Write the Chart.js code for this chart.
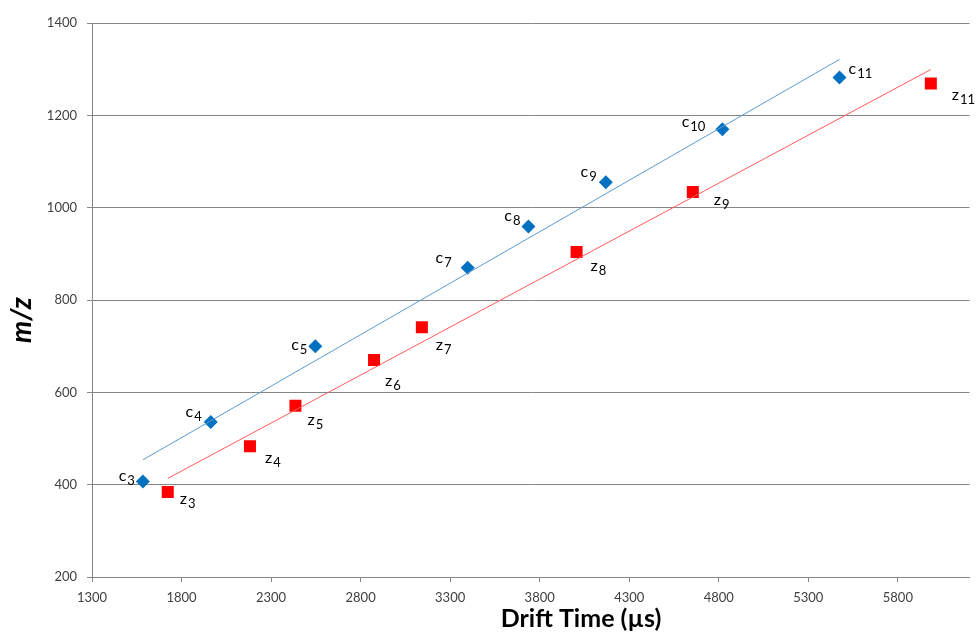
<!DOCTYPE html>
<html>
<head>
<meta charset="utf-8">
<script src="https://cdn.jsdelivr.net/npm/chart.js@4.4.1/dist/chart.umd.min.js"></script>
<style>
  html, body { margin: 0; padding: 0; background: #fff; }
</style>
</head>
<body>
<canvas id="chart" width="978" height="635"></canvas>
<script>
'use strict';

// c ions (blue diamonds) and z ions (red squares)
const cTime = [1584, 1963, 2547, 3398, 3737, 4169, 4820, 5474];
const cMass = [407, 536, 700, 870, 959, 1055, 1170, 1282];
const cIons = ['3', '4', '5', '7', '8', '9', '10', '11'];

const zTime = [1723, 2182, 2436, 2875, 3142, 4006, 4655, 5984];
const zMass = [384, 483, 571, 670, 741, 904, 1034, 1269];
const zIons = ['3', '4', '5', '6', '7', '8', '9', '11'];

const xTicks = [1300, 1800, 2300, 2800, 3300, 3800, 4300, 4800, 5300, 5800];
const yTicks = [200, 400, 600, 800, 1000, 1200, 1400];

// label offsets from each marker, in px (negative dx = text ends left of marker)
const cLabelPos = [[-8, -6], [-9, -10], [-8, -1], [-16, -10], [-8, -11], [-9, -10], [-17, -7], [9, -9]];
const zLabelPos = [[12, 7], [15, 11], [12, 14], [11, 21], [14, 18], [14, 14], [21, 8], [21, 11]];

const FONT = 'Lato, "Open Sans", sans-serif';

function toPoints(xs, ys) {
    return xs.map((x, i) => ({ x: x, y: ys[i] }));
}

// least squares line, drawn from the first to the last x of the series
function trend(xs, ys) {
    const n = xs.length;
    const mx = xs.reduce((a, b) => a + b, 0) / n;
    const my = ys.reduce((a, b) => a + b, 0) / n;
    let sxy = 0, sxx = 0;
    for (let i = 0; i < n; i++) {
        sxy += (xs[i] - mx) * (ys[i] - my);
        sxx += (xs[i] - mx) * (xs[i] - mx);
    }
    const k = sxy / sxx;
    const x0 = Math.min(...xs), x1 = Math.max(...xs);
    return [{ x: x0, y: my + k * (x0 - mx) }, { x: x1, y: my + k * (x1 - mx) }];
}

function drawIon(c, letter, sub, x, y, dx, dy) {
    c.font = '16px ' + FONT;
    const wl = c.measureText(letter).width;
    c.font = '13px ' + FONT;
    const ws = c.measureText(sub).width;
    const start = dx < 0 ? x + dx - (wl + 1 + ws) : x + dx;
    c.fillStyle = '#000';
    c.textBaseline = 'middle';
    c.textAlign = 'left';
    c.font = '16px ' + FONT;
    c.fillText(letter, start, y + dy);
    c.font = '13px ' + FONT;
    c.fillText(sub, start + wl + 1, y + dy + 5);
}

const ionLabels = {
    id: 'ionLabels',
    afterDatasetsDraw(chart) {
        const c = chart.ctx;
        const xs = chart.scales.x, ys = chart.scales.y;
        c.save();
        cTime.forEach((t, i) => {
            drawIon(c, 'c', cIons[i], xs.getPixelForValue(t), ys.getPixelForValue(cMass[i]), cLabelPos[i][0], cLabelPos[i][1]);
        });
        zTime.forEach((t, i) => {
            drawIon(c, 'z', zIons[i], xs.getPixelForValue(t), ys.getPixelForValue(zMass[i]), zLabelPos[i][0], zLabelPos[i][1]);
        });
        c.restore();
    }
};

// axis titles sit off-centre, so they are drawn by hand
const axisTitles = {
    id: 'axisTitles',
    afterDraw(chart) {
        const c = chart.ctx;
        c.save();
        c.fillStyle = '#000';
        c.textAlign = 'center';
        c.textBaseline = 'middle';
        c.font = 'bold 25px ' + FONT;
        c.fillText('Drift Time (µs)', 581, 619);
        c.translate(22, 320);
        c.rotate(-Math.PI / 2);
        c.font = 'italic bold 28px ' + FONT;
        c.fillText('m/z', 0, 0);
        c.restore();
    }
};

const ctx = document.getElementById('chart');

const chart = new Chart(ctx, {
    type: 'scatter',
    data: {
        datasets: [
            {
                label: 'c fit',
                type: 'line',
                data: trend(cTime, cMass),
                borderColor: '#5B9BD5',
                borderWidth: 1,
                pointRadius: 0,
                fill: false,
            },
            {
                label: 'z fit',
                type: 'line',
                data: trend(zTime, zMass),
                borderColor: '#FF5B5B',
                borderWidth: 1,
                pointRadius: 0,
                fill: false,
            },
            {
                label: 'c',
                data: toPoints(cTime, cMass),
                pointStyle: 'rectRot',
                pointRadius: 7,
                backgroundColor: '#0070C0',
                borderColor: '#0070C0',
                borderWidth: 0,
            },
            {
                label: 'z',
                data: toPoints(zTime, zMass),
                pointStyle: 'rect',
                pointRadius: 8.5,
                backgroundColor: '#FF0000',
                borderColor: '#FF0000',
                borderWidth: 0,
            },
        ]
    },
    options: {
        responsive: false,
        animation: false,
        devicePixelRatio: 1,
        layout: { padding: { top: 23, right: -4, left: 0, bottom: 0 } },
        plugins: {
            legend: { display: false },
            tooltip: { enabled: false },
        },
        scales: {
            x: {
                type: 'linear',
                min: 1300,
                max: 6200,
                afterBuildTicks(scale) { scale.ticks = xTicks.map(v => ({ value: v })); },
                afterFit(scale) { scale.height = 58; },
                grid: { drawOnChartArea: false, drawTicks: true, tickLength: 5, color: '#868686' },
                border: { color: '#868686' },
                ticks: {
                    color: '#404040', padding: 8, maxRotation: 0,
                    font: { family: FONT, size: 13 },
                    callback: v => String(v),
                },
            },
            y: {
                type: 'linear',
                min: 200,
                max: 1400,
                afterBuildTicks(scale) { scale.ticks = yTicks.map(v => ({ value: v })); },
                afterFit(scale) { scale.width = 92; },
                grid: { color: '#868686', tickLength: 5 },
                border: { color: '#868686' },
                ticks: {
                    color: '#404040', padding: 10,
                    font: { family: FONT, size: 13 },
                    callback: v => String(v),
                },
            },
        },
    },
    plugins: [ionLabels, axisTitles],
});
</script>
</body>
</html>
